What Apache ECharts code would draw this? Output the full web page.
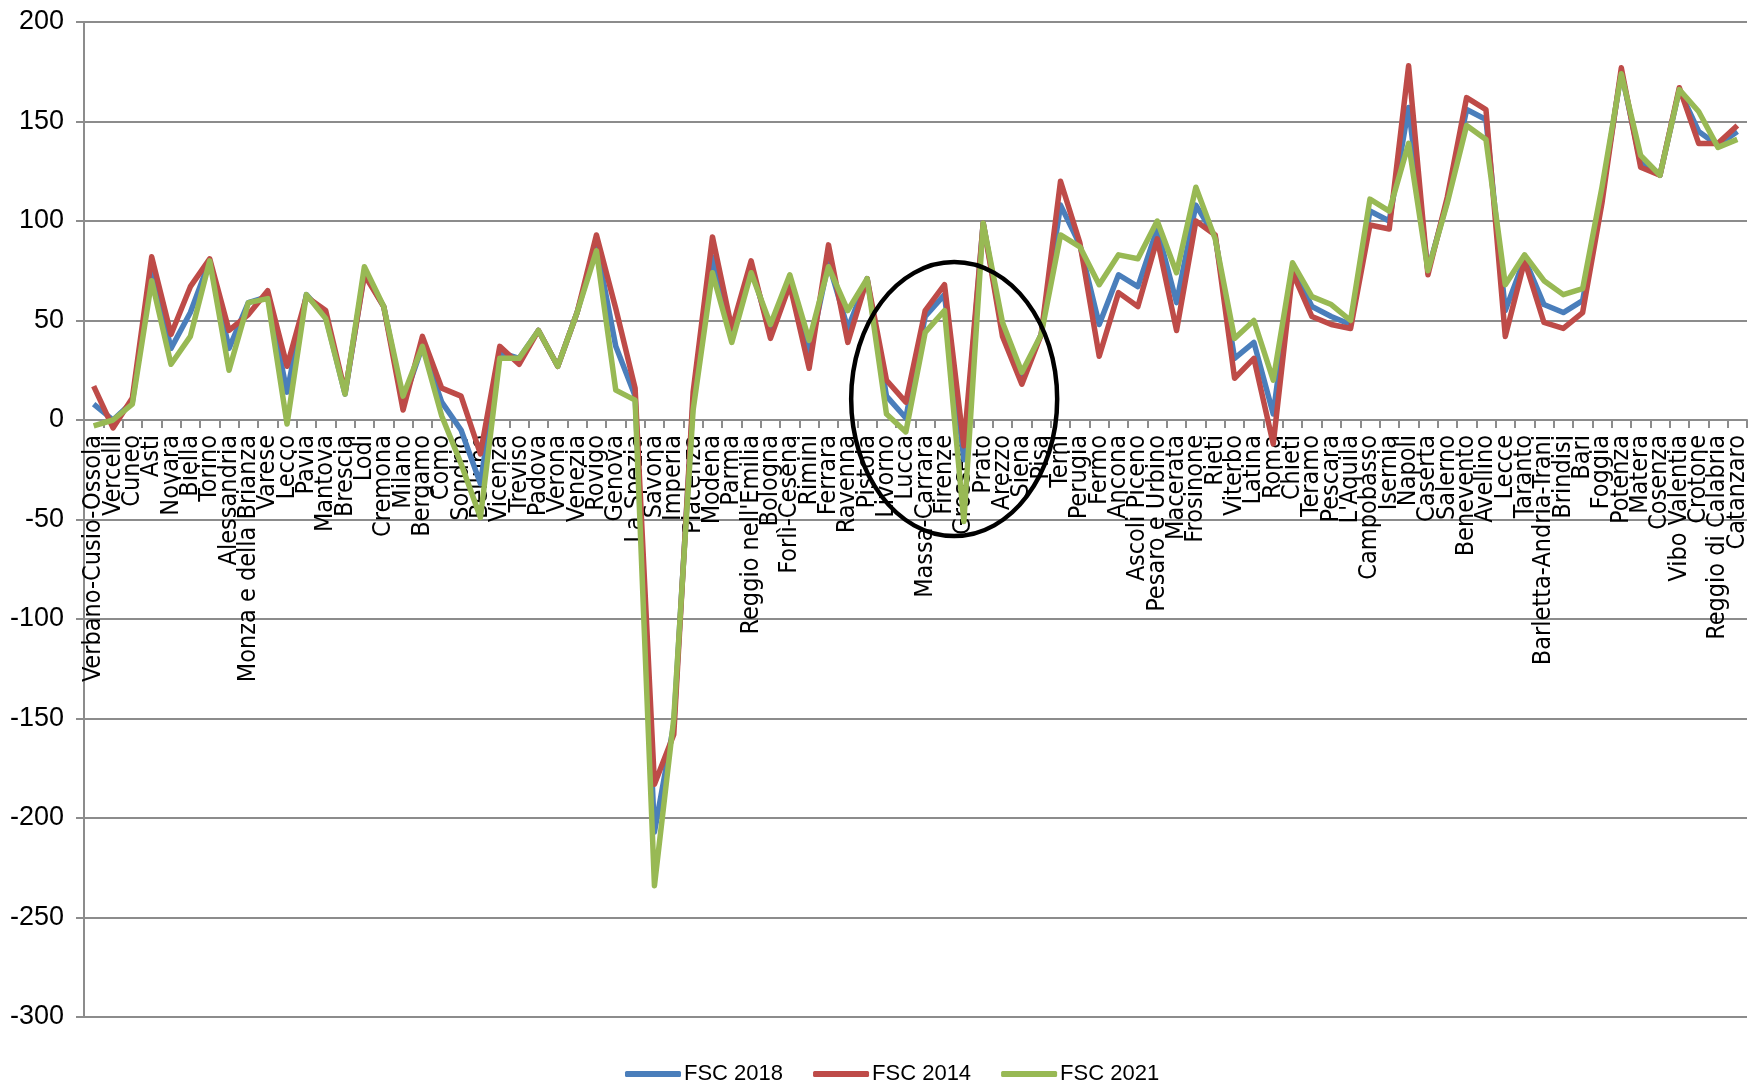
<!DOCTYPE html>
<html><head><meta charset="utf-8">
<script src="https://cdn.jsdelivr.net/npm/echarts/dist/echarts.min.js"></script>
<style>html,body{margin:0;padding:0;background:#fff}#c{width:1750px;height:1083px}</style>
</head><body><div id="c"></div>
<script>
const categories = ["Verbano-Cusio-Ossola","Vercelli","Cuneo","Asti","Novara","Biella","Torino","Alessandria","Monza e della Brianza","Varese","Lecco","Pavia","Mantova","Brescia","Lodi","Cremona","Milano","Bergamo","Como","Sondrio","Belluno","Vicenza","Treviso","Padova","Verona","Venezia","Rovigo","Genova","La Spezia","Savona","Imperia","Piacenza","Modena","Parma","Reggio nell'Emilia","Bologna","Forlì-Cesena","Rimini","Ferrara","Ravenna","Pistoia","Livorno","Lucca","Massa-Carrara","Firenze","Grosseto","Prato","Arezzo","Siena","Pisa","Terni","Perugia","Fermo","Ancona","Ascoli Piceno","Pesaro e Urbino","Macerata","Frosinone","Rieti","Viterbo","Latina","Roma","Chieti","Teramo","Pescara","L'Aquila","Campobasso","Isernia","Napoli","Caserta","Salerno","Benevento","Avellino","Lecce","Taranto","Barletta-Andria-Trani","Brindisi","Bari","Foggia","Potenza","Matera","Cosenza","Vibo Valentia","Crotone","Reggio di Calabria","Catanzaro"];

const fsc2018 = [8,0,9,77,36,54,80,36,59,62,14,63,52,13,74,57,9,37,9,-5,-32,34,31,45,27,54,88,37,12,-207,-153,10,82,43,77,44,70,33,79,46,71,12,1,52,63,-20,99,45,21,43,108,88,48,73,67,96,59,108,92,31,39,3,77,57,52,48,105,100,157,75,110,156,151,55,81,58,54,60,113,175,129,123,166,145,138,145];

const fsc2014 = [17,-4,11,82,43,67,81,45,53,65,27,62,55,14,73,57,5,42,16,12,-17,37,28,45,27,54,93,56,16,-183,-158,14,92,46,80,41,68,26,88,39,71,20,9,55,68,-13,99,42,18,43,120,89,32,64,57,91,45,100,93,21,31,-12,74,52,48,46,98,96,178,73,112,162,156,42,80,49,46,54,109,177,127,123,167,139,139,148];

const fsc2021 = [-3,0,8,70,28,42,80,25,59,61,-2,63,51,13,77,57,12,37,2,-22,-49,31,31,45,27,54,85,15,10,-234,-150,5,74,39,74,48,73,40,77,55,71,3,-6,44,55,-51,99,49,24,43,93,87,68,83,81,100,74,117,91,41,50,20,79,62,58,50,111,105,139,75,109,148,141,68,83,70,63,66,117,174,133,123,166,155,137,141];

const seriesNames = ["FSC 2018","FSC 2014","FSC 2021"];
const seriesColors = ["#4A7EBB","#BE4B48","#98B954"];
const yMin = -300, yMax = 200, yStep = 50;

const chart = echarts.init(document.getElementById('c'), null, {renderer:'canvas'});
const dataSets = [fsc2018, fsc2014, fsc2021];
chart.setOption({
  animation: false,
  backgroundColor: '#fff',
  grid: {left: 84, right: 3, top: 22, bottom: 66, containLabel: false, outerBoundsMode: 'none'},
  legend: {
    data: seriesNames,
    left: 620, top: 1058,
    icon: 'roundRect', itemWidth: 56, itemHeight: 6, itemGap: 30,
    textStyle: {fontFamily: 'Liberation Sans, Arial, sans-serif', fontSize: 22, color: '#000', padding:[0,0,0,-2]}
  },
  xAxis: {
    type: 'category', data: categories, boundaryGap: true, position: 'bottom', offset: 0,
    axisLine: {onZero: false, lineStyle: {color: '#8c8c8c', width: 2}},
    axisTick: {show: true, interval: 0, length: 8, lineStyle: {color: '#8c8c8c', width: 2}},
    axisLabel: {interval: 0, rotate: 90, margin: 15, color: '#000', hideOverlap: false,
      fontFamily: "'Liberation Sans Narrow', 'DejaVu Sans Condensed', sans-serif", fontSize: 25},
    splitLine: {show: false}
  },
  yAxis: {
    type: 'value', min: yMin, max: yMax, interval: yStep,
    axisLine: {show: true, lineStyle: {color: '#8c8c8c', width: 2}},
    axisTick: {show: true, length: 8, lineStyle: {color: '#8c8c8c', width: 2}},
    axisLabel: {color: '#000', margin: 20, fontFamily: 'Liberation Sans, Arial, sans-serif', fontSize: 27},
    splitLine: {show: true, lineStyle: {color: '#8c8c8c', width: 2}}
  },
  series: dataSets.map((d, i) => ({
    name: seriesNames[i], type: 'line', data: d,
    showSymbol: false, symbol: 'none', smooth: false,
    lineStyle: {color: seriesColors[i], width: 5.5, join: 'round'},
    itemStyle: {color: seriesColors[i]},
    z: 2 + i
  }))
});

// move the category axis (line, ticks, labels) up to the zero line
const yZero = chart.convertToPixel({yAxisIndex: 0}, 0);
const yBottom = chart.convertToPixel({yAxisIndex: 0}, yMin);
chart.setOption({xAxis: {offset: -(yBottom - yZero)}});

// annotation ellipse anchored around Firenze / Grosseto
const pA = chart.convertToPixel({seriesIndex: 0}, [44, 10.5]);
const pB = chart.convertToPixel({seriesIndex: 0}, [45, 10.5]);
chart.setOption({
  graphic: [{
    type: 'ellipse', z: 100,
    shape: {cx: (pA[0] + pB[0]) / 2, cy: pA[1], rx: 103, ry: 137},
    style: {fill: 'none', stroke: '#000', lineWidth: 4.5}
  }]
});
</script>
</body></html>
